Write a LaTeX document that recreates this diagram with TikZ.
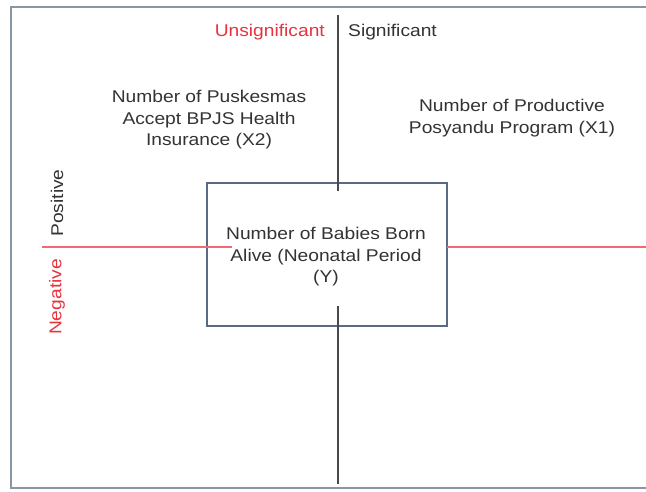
\documentclass[tikz,border=0pt]{standalone}
\usepackage{fontspec}
\setmainfont{Liberation Sans}
\newfontfamily\labfont[FakeStretch=1.13]{Liberation Sans}
\definecolor{txtgray}{HTML}{333333}
\definecolor{sigred}{HTML}{E8333F}
\definecolor{linered}{HTML}{F06A78}
\definecolor{axisgray}{HTML}{4A4A4A}
\definecolor{boxblue}{HTML}{5A6A82}
\definecolor{framegray}{HTML}{8896A6}
\tikzset{
  lab/.style={inner sep=0pt, text=txtgray, font=\labfont\fontsize{17}{21.5}\selectfont, align=center},
  redlab/.style={lab, text=sigred},
  axisline/.style={draw=axisgray, line width=1.3pt},
  redline/.style={draw=linered, line width=1.2pt},
  centerbox/.style={draw=boxblue, line width=1.1pt, minimum width=240pt, minimum height=143pt, inner sep=0pt},
  frameline/.style={draw=framegray, line width=1.4pt}
}
\begin{document}
\begin{tikzpicture}[x=1pt,y=-1pt]
\useasboundingbox (0,0) rectangle (646,492);
\fill[white] (0,0) rectangle (646,492);
% outer frame (right side cropped)
\draw[frameline] (650,7) -- (11,7) -- (11,488) -- (650,488);
% center box
\node[centerbox] (box) at (327,254.5) {};
\node[lab] (ytext) at (326,257) {Number of Babies Born\\Alive (Neonatal Period\\(Y)};
% axis coordinates
\coordinate (vtop) at (338,15);
\coordinate (vtopend) at (338,191);
\coordinate (vbot) at (338,306);
\coordinate (vbotend) at (338,484);
\coordinate (hleft) at (42,247);
\coordinate (hleftend) at (232,247);
\coordinate (hright) at (447,247);
\coordinate (hrightend) at (650,247);
\draw[axisline] (vtop) -- (vtopend);
\draw[axisline] (vbot) -- (vbotend);
\draw[redline] (hleft) -- (hleftend);
\draw[redline] (hright) -- (hrightend);
% labels
\node[redlab, anchor=east] (unsig) at (325,32) {Unsignificant};
\node[lab, anchor=west] (sig) at (348,32) {Significant};
\node[lab] (x2) at (209,120) {Number of Puskesmas\\Accept BPJS Health\\Insurance (X2)};
\node[lab] (x1) at (512,118) {Number of Productive\\Posyandu Program (X1)};
\node[lab, rotate=90] (pos) at (57,203) {Positive};
\node[redlab, rotate=90] (neg) at (57,297) {Negative};
\end{tikzpicture}
\end{document}
